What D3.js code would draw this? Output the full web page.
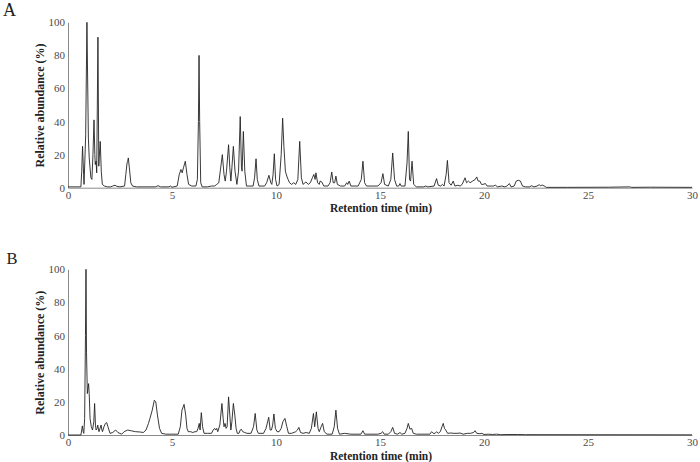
<!DOCTYPE html>
<html><head><meta charset="utf-8">
<script src="https://cdn.jsdelivr.net/npm/d3@7"></script>
<style>html,body{margin:0;padding:0;background:#fff;}svg{display:block;}</style>
</head><body>
<svg id="chart" width="700" height="462"></svg>
<script>
// Panel A chromatogram (retention time in min, relative abundance in %)
const timesA = [0,0.62,0.66,0.70,0.75,0.77,0.82,0.85,0.91,0.98,1.02,1.10,1.15,1.20,1.25,1.29,1.31,1.35,1.38,1.44,1.48,1.50,1.55,1.60,1.65,1.75,1.90,2.05,2.15,2.26,2.35,2.50,2.72,2.78,2.84,2.87,2.90,2.95,3.02,3.10,3.30,4.20,4.33,4.45,4.85,4.92,5.00,5.25,5.35,5.43,5.49,5.55,5.64,5.72,5.80,5.95,6.15,6.22,6.27,6.30,6.33,6.38,6.45,6.70,6.90,7.05,7.15,7.25,7.32,7.42,7.50,7.56,7.62,7.72,7.78,7.83,7.88,7.95,8.03,8.12,8.20,8.28,8.34,8.37,8.43,8.50,8.58,8.75,8.90,8.97,9.04,9.10,9.18,9.45,9.55,9.66,9.75,9.80,9.86,9.92,9.98,10.05,10.15,10.25,10.32,10.38,10.45,10.52,10.58,10.65,10.75,10.85,10.95,11.05,11.14,11.22,11.30,11.44,11.55,11.65,11.75,11.82,11.88,11.92,12.00,12.08,12.12,12.20,12.30,12.50,12.60,12.68,12.75,12.82,12.88,12.95,13.10,13.30,13.40,13.45,13.52,13.60,13.95,14.10,14.18,14.26,14.35,14.90,15.05,15.14,15.22,15.40,15.52,15.61,15.70,15.80,15.90,15.96,16.02,16.20,16.30,16.36,16.42,16.47,16.54,16.62,16.75,17.10,17.20,17.30,17.60,17.72,17.80,17.92,18.00,18.08,18.18,18.24,18.32,18.42,18.52,18.60,18.75,18.85,18.95,19.09,19.16,19.25,19.33,19.45,19.58,19.65,19.72,19.80,19.88,19.95,20.07,20.15,20.35,20.45,20.55,20.65,20.85,21.00,21.10,21.22,21.30,21.45,21.55,21.65,21.75,21.85,22.00,22.20,22.29,22.40,22.55,22.65,22.72,22.80,22.90,23.00,24.00,26.00,27.00,27.10,28.00,30.00];
const valuesA = [0.5,0.5,10,25,8,2,20,32,100,30,18,6,5,20,41,20,14,16,9,91,13,18,28,10,2,1,0.5,0.5,1,1.5,0.8,0.5,1,8,15,16,18,12,3,1,0.5,0.5,1.2,0.5,0.5,1,0.3,1,8,11,9,12,16,8,2,1,1,5,40,80,40,3,0.5,0.5,1,1,2,3,10,20,8,4,10,26,12,4,12,25,10,2,10,43,12,10,34,10,1,1,1,6,17.5,5,1,1,3,7.5,3,2,8,20.5,5,1,2,20,42,25,10,7,5,3,2,3,2,5,28,6,2,3.5,2,3,6,8,5,9,3,2,4,3.5,1,1,3,9.5,3,3,7,2,1,1,3,2,4,1,1,5,16,3,1,1,3,8.5,2,1,5,21,5,1,1,2.5,1,1,15,34,5,4,16,2,0.5,0.5,1,0.5,1,5.5,1.5,1,2,1,8,16.5,3,1.5,4,1,1.5,1,2,6,3,4,3,4,5,6.5,4,4,2,2,2.5,1,1,1,1.5,0.5,1,0.5,1,2.5,0.5,1,4,4.5,4,1,0.5,0.5,1.2,0.5,1,1.8,1.2,1.6,1,0.2,0.2,0.3,0.5,0.2,0.3,0.2];

// Panel B chromatogram
const timesB = [0,0.62,0.66,0.69,0.73,0.76,0.80,0.84,0.865,0.89,0.93,0.96,0.99,1.02,1.06,1.12,1.18,1.24,1.28,1.32,1.35,1.40,1.43,1.47,1.49,1.54,1.59,1.63,1.66,1.73,1.80,1.86,1.92,2.02,2.15,2.29,2.40,2.58,2.70,2.87,3.05,3.25,3.47,3.62,3.75,3.87,3.94,4.05,4.15,4.22,4.30,4.40,4.50,4.70,5.30,5.40,5.48,5.58,5.66,5.72,5.78,5.90,6.00,6.10,6.19,6.25,6.31,6.35,6.41,6.47,6.54,6.70,6.90,6.98,7.05,7.10,7.15,7.20,7.30,7.40,7.46,7.50,7.55,7.60,7.65,7.72,7.78,7.83,7.88,7.95,8.02,8.08,8.14,8.22,8.28,8.33,8.40,8.50,8.60,8.80,8.92,9.00,9.08,9.15,9.40,9.52,9.65,9.72,9.78,9.84,9.90,9.97,10.05,10.15,10.25,10.33,10.43,10.52,10.60,10.75,10.95,11.03,11.10,11.18,11.30,11.45,11.60,11.70,11.80,11.86,11.94,12.02,12.08,12.17,12.24,12.32,12.45,12.70,12.80,12.88,12.96,13.05,13.30,13.60,14.08,14.18,14.26,14.90,15.05,15.13,15.20,15.40,15.52,15.61,15.70,15.85,15.96,16.05,16.20,16.30,16.36,16.44,16.52,16.60,16.75,17.40,17.48,17.56,17.65,17.72,17.80,17.90,17.98,18.04,18.10,18.16,18.25,18.40,18.55,18.70,18.85,19.00,19.20,19.35,19.50,19.57,19.65,19.80,19.90,20.00,20.20,20.40,20.60,20.80,21.20,21.60,22.00,30.00];
const valuesB = [0,0,3,5.5,2,1,10,60,100,50,25,28,31,25,10,5,3,8,19,6,3,4,6,3,2,4,6,3,2,5,7,7.5,5,1,1.5,3,1.5,0.5,2,3,2.5,2,1.8,1.5,3,7,10,15,21,20,12,4,1,0.5,0.5,5,15,18.5,12,4,2,2,1.5,2,2,4,7,3,13.5,5,1,1,1,3,4,3,4,2,6,19,10,5,7,4,5,23,12,3,8,19,12,4,1,1,3,3.5,2,1.5,1,1,5,13,3,1,1,4,10.7,3,3,6,12.7,4,2,2,4,8,10,5,1,1,2,3,4.6,1.5,1,1.5,1,4,13,5,14,4,2,5,7,2,0.5,0.5,5,15,4,0.5,1,0.5,0.5,2.6,0.5,0.5,1,2,0.5,0.5,2,4.6,1,0.5,1.5,0.5,1,4,7,3.5,4,1,0.5,0.5,2,1,1,2,1,2,5,7,4,3,1,1.2,1,1,1.2,0.5,1,1,1.5,2.6,1,0.8,1,0.3,0.5,0.3,0.5,0.2,0.3,0.3,0.2,0.1];

const xTicks = [0,5,10,15,20,25,30];
const yTicks = [0,20,40,60,80,100];
const panels = [
  {label:"A", times:timesA, values:valuesA},
  {label:"B", times:timesB, values:valuesB}
];
const xTitle = "Retention time (min)";
const yTitle = "Relative abundance (%)";

const svg = d3.select("#chart");
svg.append("rect").attr("width",700).attr("height",462).attr("fill","#fff");
const FONT = "'Liberation Serif','Times New Roman',serif";
const left = 68, right = 692;
const layout = [
  {top:22.3, bottom:187.7, labelX:3, labelY:15.5, labelSize:18},
  {top:269.3, bottom:435, labelX:6.5, labelY:263.5, labelSize:16.5}
];

panels.forEach((p, i) => {
  const L = layout[i];
  const x = d3.scaleLinear().domain([0,30]).range([left,right]);
  const y = d3.scaleLinear().domain([0,100]).range([L.bottom,L.top]);
  const g = svg.append("g");

  const xAxis = g.append("g").attr("transform",`translate(0,${L.bottom})`)
    .call(d3.axisBottom(x).tickValues(xTicks).tickSize(0).tickPadding(3.5).tickFormat(d3.format("d")));
  const yAxis = g.append("g").attr("transform",`translate(${left},0)`)
    .call(d3.axisLeft(y).tickValues(yTicks).tickSize(0).tickPadding(3).tickFormat(d3.format("d")));
  [xAxis,yAxis].forEach(a => {
    a.select(".domain").attr("stroke","#8a8a8a").attr("stroke-width",1);
    a.selectAll("text").attr("font-family",FONT).attr("font-size",11).attr("fill","#4a4a4a");
  });

  const line = d3.line().x((d,j)=>x(p.times[j])).y((d,j)=>y(p.values[j]));
  g.append("path").datum(p.values).attr("d",line)
    .attr("fill","none").attr("stroke","#222").attr("stroke-width",0.9).attr("stroke-linejoin","round");

  g.append("text").attr("x",(left+right)/2+1).attr("y",L.bottom+24.5)
    .attr("text-anchor","middle").attr("font-family",FONT).attr("font-weight","bold")
    .attr("font-size",11.5).attr("fill","#222").text(xTitle);
  g.append("text").attr("transform",`translate(44,${(L.top+L.bottom)/2+0.5}) rotate(-90)`)
    .attr("text-anchor","middle").attr("font-family",FONT).attr("font-weight","bold")
    .attr("font-size",12).attr("fill","#222").text(yTitle);
  g.append("text").attr("x",L.labelX).attr("y",L.labelY)
    .attr("font-family",FONT).attr("font-size",L.labelSize).attr("fill","#222").text(p.label);
});
</script>
</body></html>
